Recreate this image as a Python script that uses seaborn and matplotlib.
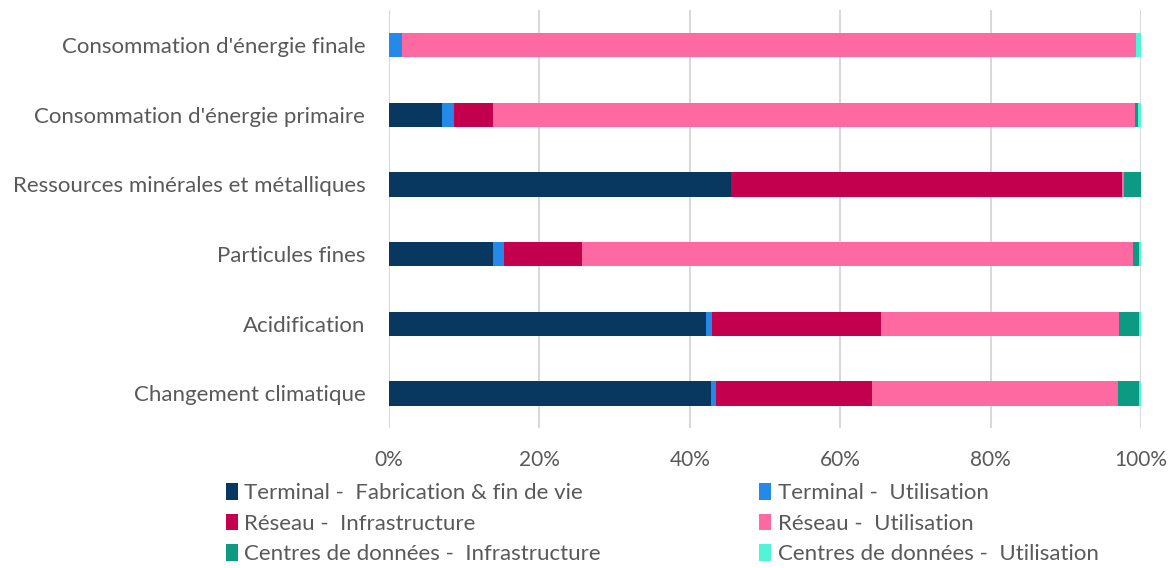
import numpy as np
import pandas as pd
import matplotlib
matplotlib.use("Agg")
import matplotlib.pyplot as plt
import seaborn as sns
from matplotlib.patches import Patch

# Impact categories (top to bottom)
categories = [
    "Consommation d'énergie finale",
    "Consommation d'énergie primaire",
    "Ressources minérales et métalliques",
    "Particules fines",
    "Acidification",
    "Changement climatique",
]

series_names = [
    "Terminal -  Fabrication & fin de vie",
    "Terminal -  Utilisation",
    "Réseau -  Infrastructure",
    "Réseau -  Utilisation",
    "Centres de données -  Infrastructure",
    "Centres de données -  Utilisation",
]

# Share of each impact (%) per series, in category order
terminal_fab = [0.0, 7.0, 45.5, 13.9, 42.2, 42.8]
terminal_util = [1.7, 1.7, 0.0, 1.4, 0.7, 0.7]
reseau_infra = [0.0, 5.1, 52.0, 10.4, 22.6, 20.8]
reseau_util = [97.7, 85.4, 0.3, 73.2, 31.6, 32.7]
dc_infra = [0.0, 0.4, 2.2, 0.8, 2.6, 2.7]
dc_util = [0.6, 0.4, 0.0, 0.3, 0.3, 0.3]

colors = ["#08375F", "#2589EA", "#C2004E", "#FF69A2", "#0D9A82", "#50F5D8"]

x_ticks = [0, 20, 40, 60, 80, 100]
x_ticklabels = ["0%", "20%", "40%", "60%", "80%", "100%"]

series = [terminal_fab, terminal_util, reseau_infra, reseau_util, dc_infra, dc_util]
cum = np.cumsum(np.array(series), axis=0)

sns.set_style("white")
plt.rcParams["font.family"] = ["Lato", "DejaVu Sans"]

fig = plt.figure(figsize=(11.75, 5.68), dpi=100)
ax = fig.add_axes([0.331, 0.246, 0.640, 0.736])

# Stacked bars: draw cumulative totals from the outermost segment inwards
for i in range(len(series) - 1, -1, -1):
    df = pd.DataFrame({"cat": categories, "val": cum[i]})
    sns.barplot(data=df, x="val", y="cat", order=categories, orient="y",
                color=colors[i], width=0.35, ax=ax, saturation=1,
                edgecolor="none", linewidth=0, zorder=3)

ax.set_xlim(0, 100)
ax.set_xticks(x_ticks)
ax.set_xticklabels(x_ticklabels)
ax.set_xlabel("")
ax.set_ylabel("")
ax.grid(axis="x", color="#D9D9D9", linewidth=1.5, zorder=0)
ax.set_axisbelow(True)
for s in ax.spines.values():
    s.set_visible(False)
ax.tick_params(axis="both", length=0, labelcolor="#595959")
ax.tick_params(axis="y", labelsize=16, pad=17)
ax.tick_params(axis="x", labelsize=15, pad=16)

# Legend laid out row by row in two columns
order = [0, 2, 4, 1, 3, 5]
handles = [Patch(facecolor=colors[i], edgecolor="none") for i in order]
labels = [series_names[i] for i in order]
fig.legend(handles, labels, ncol=2, loc="upper left",
           bbox_to_anchor=(0.192, 0.149), frameon=False, borderpad=0,
           borderaxespad=0, fontsize=16, labelcolor="#595959",
           handlelength=0.55, handleheight=0.75, handletextpad=0.3,
           columnspacing=7.1, labelspacing=0.47)

fig.savefig("out.png", dpi=100)
